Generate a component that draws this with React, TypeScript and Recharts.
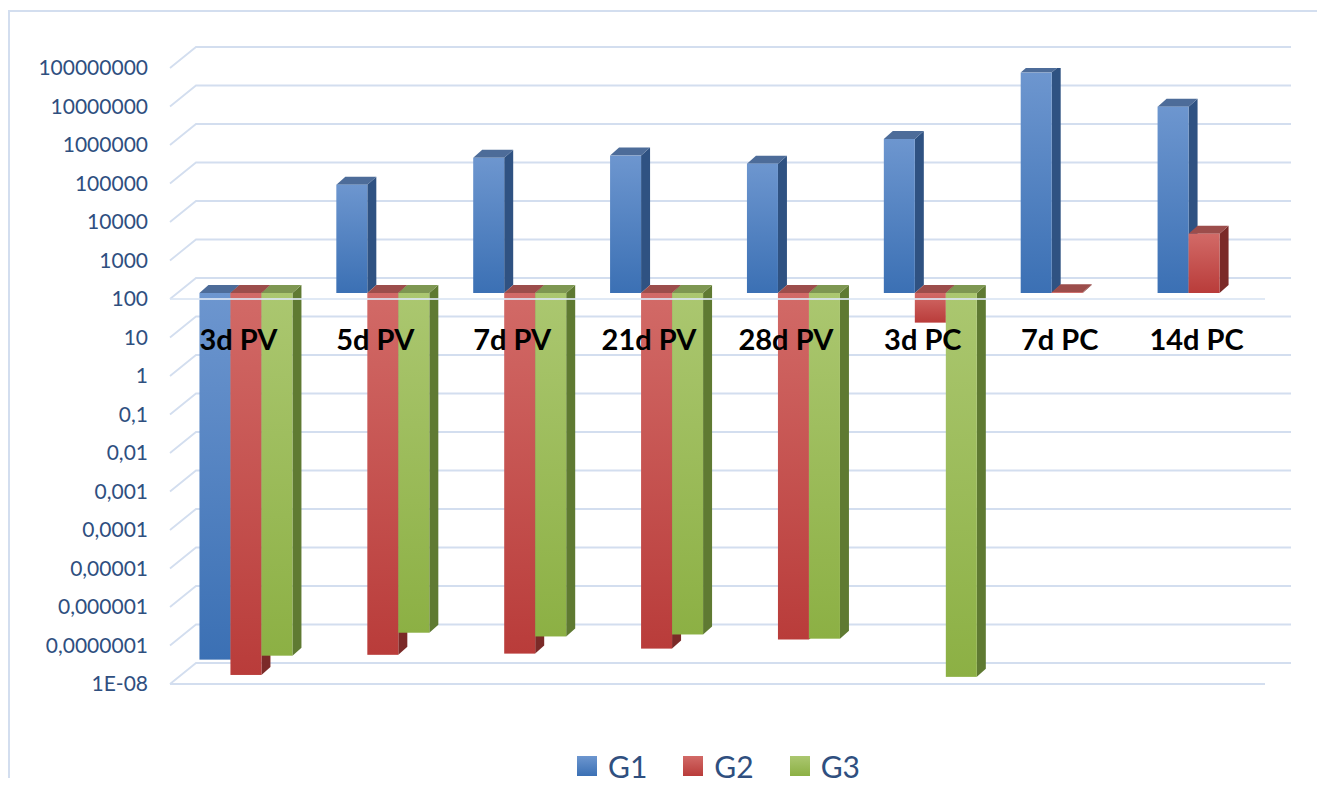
import React from 'react';
import { BarChart, Bar, XAxis, YAxis, CartesianGrid, ReferenceLine, ReferenceDot, Legend } from 'recharts';

// categories and series (log scale, bars grow from the 100 floor)
const categories = ['3d PV', '5d PV', '7d PV', '21d PV', '28d PV', '3d PC', '7d PC', '14d PC'];
const g1Values = [3.0e-8, 65000, 325000, 370000, 229000, 1000000, 53000000, 6900000];
const g2Values = [1.2e-8, 4.0e-8, 4.3e-8, 5.8e-8, 1.0e-7, 17, 105, 3470];
const g3Values: (number | null)[] = [3.8e-8, 1.5e-7, 1.2e-7, 1.35e-7, 1.05e-7, 1.07e-8, null, null];

const yTicks = [1e-8, 1e-7, 1e-6, 1e-5, 1e-4, 1e-3, 1e-2, 1e-1, 1, 10, 100, 1000, 10000, 100000, 1000000, 10000000, 100000000];
const yTickLabels = ['1E-08', '0,0000001', '0,000001', '0,00001', '0,0001', '0,001', '0,01', '0,1', '1', '10', '100', '1000', '10000', '100000', '1000000', '10000000', '100000000'];

const FLOOR = 100;
const LABEL_LEVEL = 9;

const range = (v: number | null) => (v == null ? null : [Math.min(FLOOR, v), Math.max(FLOOR, v)]);

const data = categories.map((cat, i) => ({
  cat,
  g1: range(g1Values[i]),
  g2: range(g2Values[i]),
  g3: range(g3Values[i]),
}));

const W = 1306;
const H = 768;
const GRID = '#d3deef';
const TEXT = '#2f4f7f';

const series = [
  { key: 'g1', name: 'G1', light: '#6d96cf', dark: '#3b70b4', side: '#2f5282', top: '#4d6c99' },
  { key: 'g2', name: 'G2', light: '#d26a67', dark: '#b93c3a', side: '#7b2a28', top: '#9c4d4b' },
  { key: 'g3', name: 'G3', light: '#abc770', dark: '#8cb044', side: '#5f7a32', top: '#7e9752' },
];

// 3d look: front face sits a bit behind the front plane
const DX = 7;
const DY = -6;
const DEPTH_X = 9;
const DEPTH_Y = 8;

const Bar3D = (props: any) => {
  const { x, y, width, height, payload, sk } = props;
  const s = series.find((d) => d.key === sk)!;
  if (payload[sk] == null) return null;
  const y0 = Math.min(y, y + height);
  const h = Math.abs(height);
  const fx = x + DX;
  const fy = y0 + DY;
  const rx = fx + width;
  const by = fy + h;
  return (
    <g>
      <polygon
        points={`${rx},${fy} ${rx + DEPTH_X},${fy - DEPTH_Y} ${rx + DEPTH_X},${by - DEPTH_Y} ${rx},${by}`}
        fill={s.side}
      />
      <polygon
        points={`${fx},${fy} ${fx + DEPTH_X},${fy - DEPTH_Y} ${rx + DEPTH_X},${fy - DEPTH_Y} ${rx},${fy}`}
        fill={s.top}
      />
      <rect x={fx} y={fy} width={width} height={h} fill={`url(#front-${sk})`} />
    </g>
  );
};

// back-wall grid line with the short diagonal to the front axis
const WallLine = (props: any) => {
  const { x1, y1, x2 } = props;
  return (
    <path
      key={props.key}
      d={`M${x1},${y1} L${x1 + 26},${y1 - 21} L${x2 + 26},${y1 - 21}`}
      stroke={GRID}
      strokeWidth={1.8}
      fill="none"
    />
  );
};

const renderLegend = (p: any) => (
  <div
    style={{
      width: W,
      height: 96,
      display: 'flex',
      alignItems: 'flex-end',
      boxSizing: 'border-box',
      paddingLeft: 567,
      paddingBottom: 4,
    }}
  >
    <div style={{ display: 'flex', alignItems: 'center', height: 20 }}>
      {series.map((s, i) => (
        <div key={s.key} style={{ display: 'flex', alignItems: 'center', marginLeft: i ? 36 : 0 }}>
          <div
            style={{
              width: 20,
              height: 20,
              background: `linear-gradient(${s.light}, ${s.dark})`,
            }}
          />
          <span
            style={{
              marginLeft: 11,
              fontFamily: 'Lato',
              fontSize: 30,
              lineHeight: '20px',
              color: TEXT,
            }}
          >
            {p.payload?.[i]?.value ?? s.name}
          </span>
        </div>
      ))}
    </div>
  </div>
);

export default function App() {
  return (
    <div
      style={{
        position: 'relative',
        top: 2,
        width: 1314,
        height: H,
        borderTop: `2px solid ${GRID}`,
        borderLeft: `2px solid ${GRID}`,
      }}
    >
      <BarChart
        width={W}
        height={H}
        data={data}
        margin={{ top: 56, right: 51, bottom: 0, left: 0 }}
        barCategoryGap="16.4%"
        barGap={0}
        style={{ overflow: 'visible' }}
      >
        <defs>
          {series.map((s) => (
            <linearGradient key={s.key} id={`front-${s.key}`} x1="0" y1="0" x2="0" y2="1">
              <stop offset="0%" stopColor={s.light} />
              <stop offset="100%" stopColor={s.dark} />
            </linearGradient>
          ))}
        </defs>
        <CartesianGrid vertical={false} horizontal={WallLine} />
        <XAxis dataKey="cat" hide />
        <YAxis
          scale="log"
          domain={[1e-8, 1e8]}
          allowDataOverflow
          ticks={yTicks}
          interval={0}
          width={160}
          axisLine={false}
          tickLine={false}
          tickSize={0}
          tickMargin={22}
          tick={{ fill: TEXT, fontSize: 21, fontFamily: 'Lato' }}
          tickFormatter={(v: number) => yTickLabels[Math.round(Math.log10(v)) + 8]}
        />
        <ReferenceLine y={1e-8} stroke={GRID} strokeWidth={1.8} />
        {series.map((s) => (
          <Bar
            key={s.key}
            dataKey={s.key}
            name={s.name}
            fill={s.dark}
            isAnimationActive={false}
            shape={(p: any) => <Bar3D {...p} sk={s.key} />}
          />
        ))}
        <ReferenceLine y={FLOOR} stroke="#dbe5f3" strokeWidth={1.8} strokeOpacity={0.85} />
        {categories.map((c) => (
          <ReferenceDot
            key={c}
            x={c}
            y={LABEL_LEVEL}
            r={0}
            fill="none"
            stroke="none"
            label={{
              value: c,
              position: 'center',
              fill: '#000',
              fontSize: 29,
              fontWeight: 700,
              fontFamily: 'Lato',
            }}
          />
        ))}
        <Legend verticalAlign="bottom" content={renderLegend} wrapperStyle={{ left: 0, bottom: 0 }} />
      </BarChart>
    </div>
  );
}
